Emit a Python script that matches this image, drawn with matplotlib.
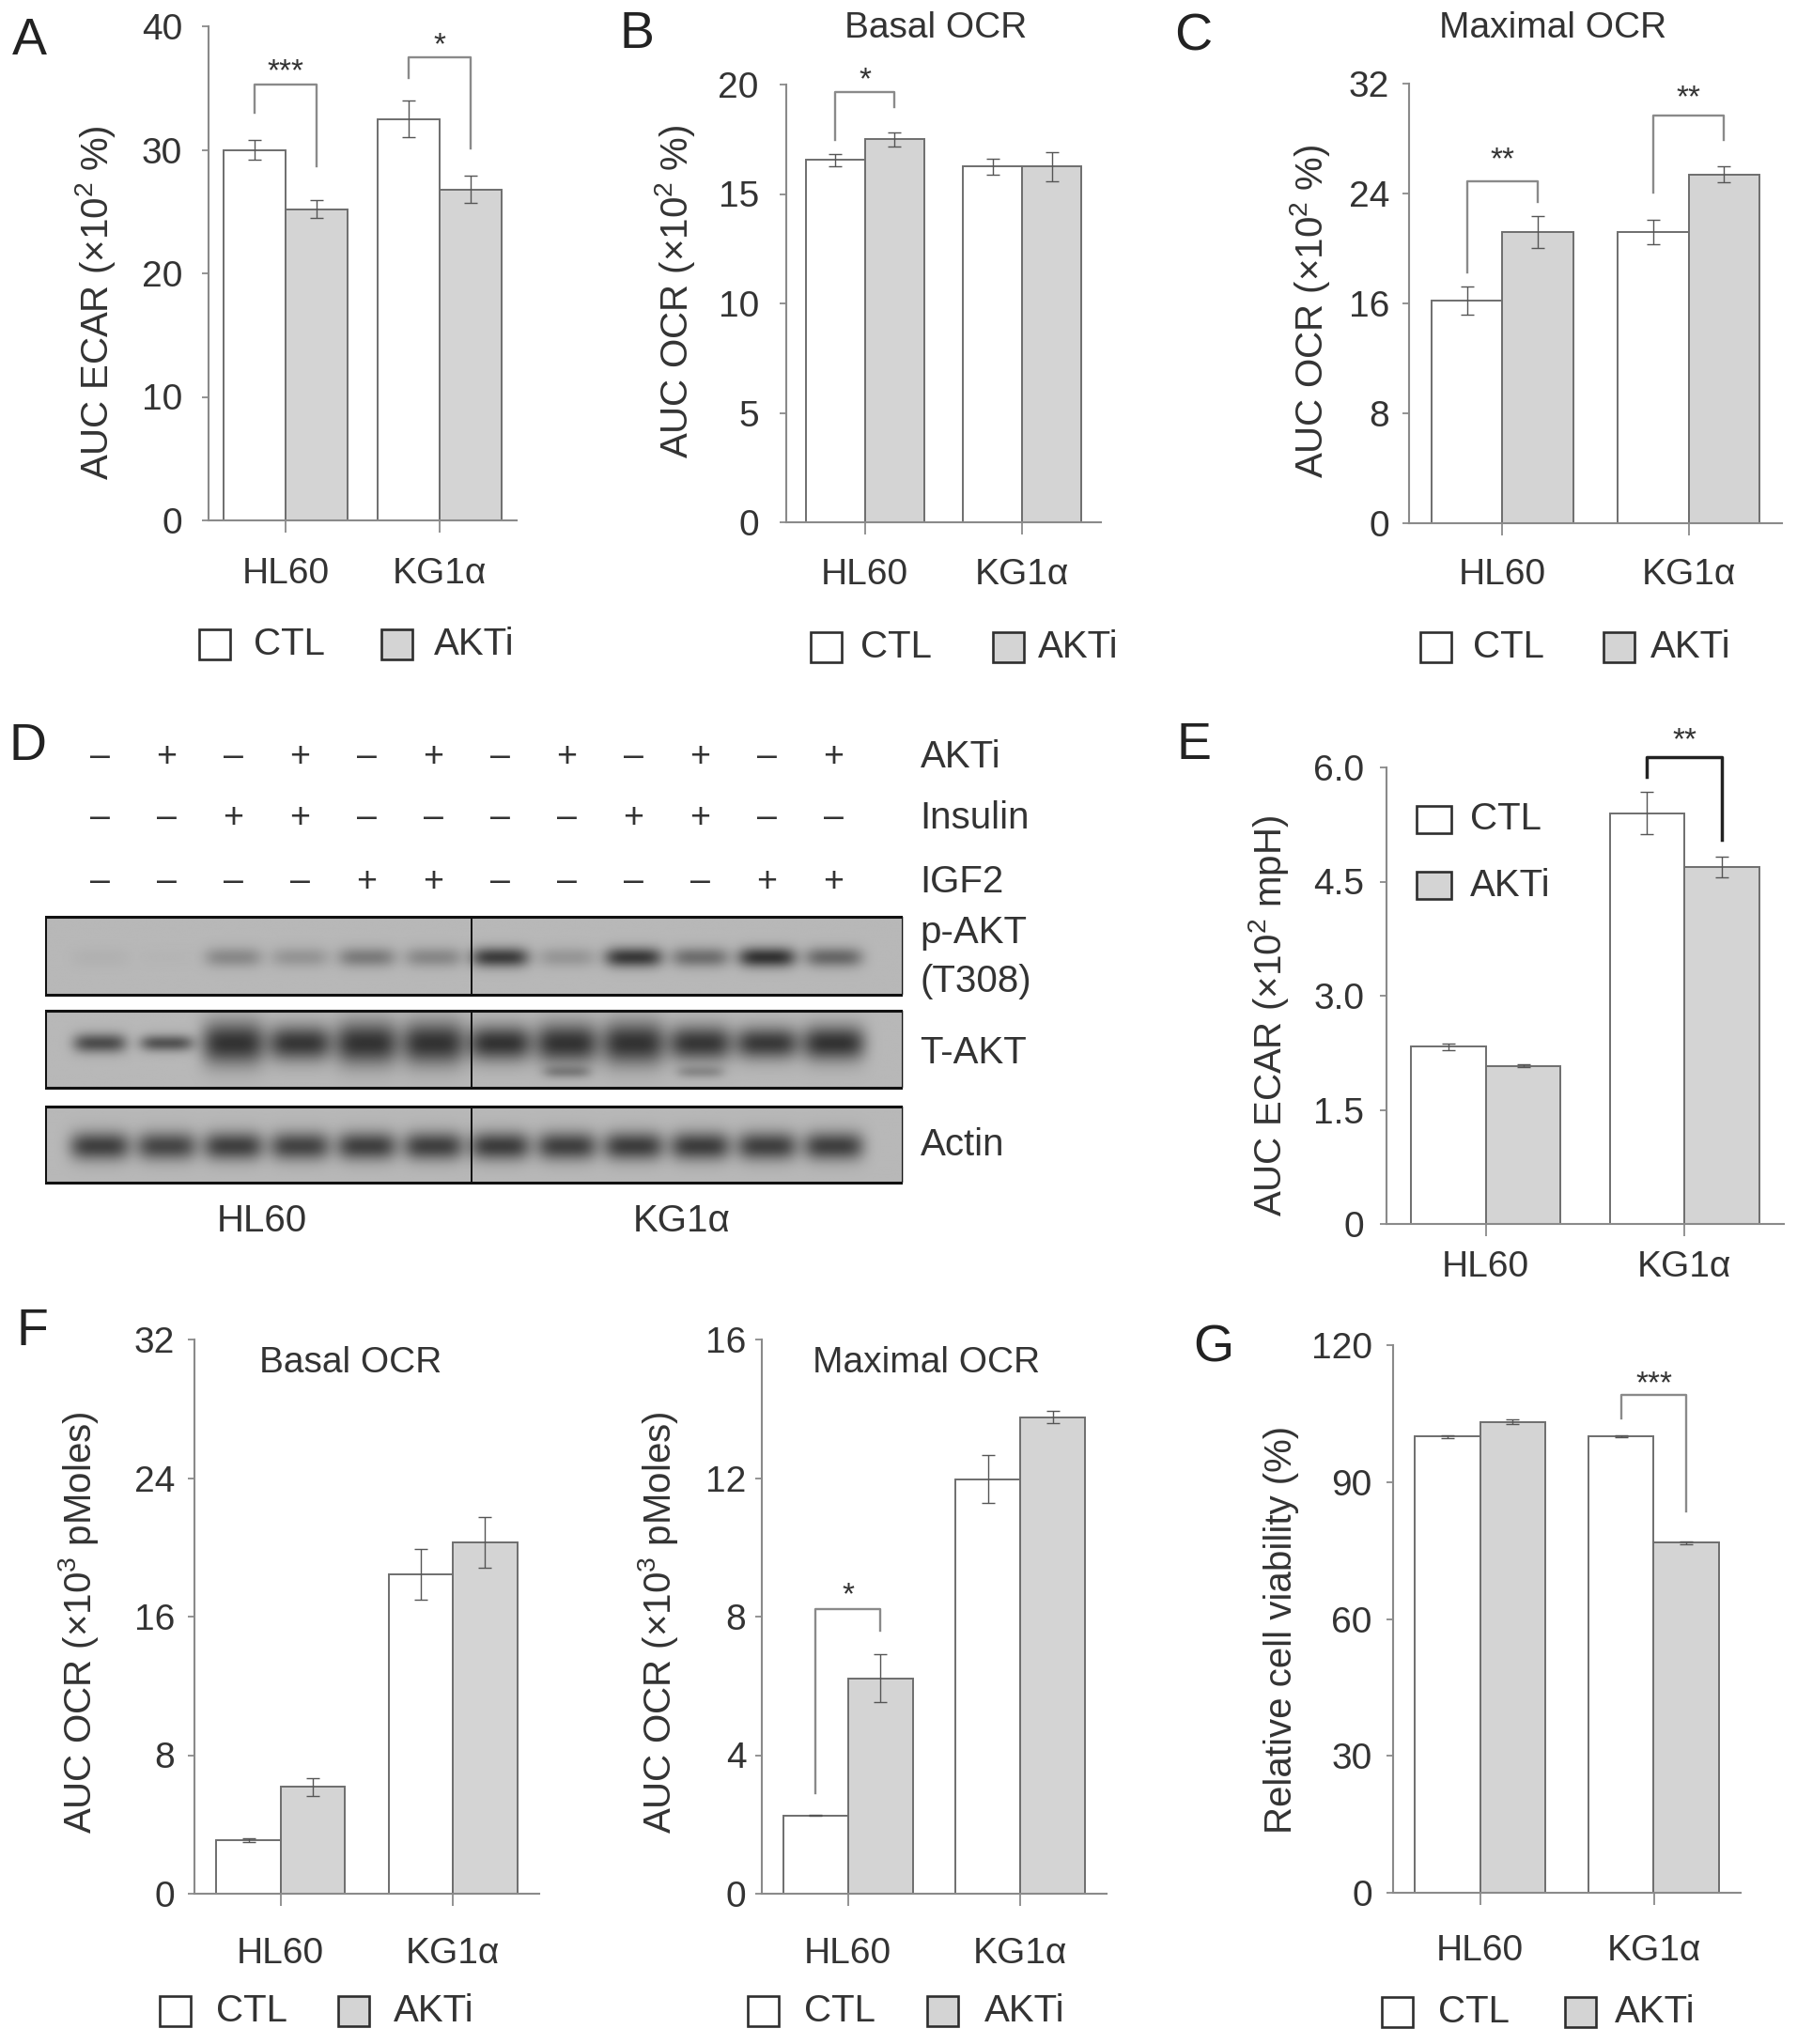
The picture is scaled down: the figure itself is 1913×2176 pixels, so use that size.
import numpy as np
import matplotlib
matplotlib.use("Agg")
import matplotlib.pyplot as plt
from matplotlib.patches import Rectangle

plt.rcParams['font.family'] = ['Liberation Sans', 'DejaVu Sans']
plt.rcParams['mathtext.fontset'] = 'custom'
plt.rcParams['mathtext.rm'] = 'Liberation Sans'
plt.rcParams['mathtext.it'] = 'Liberation Sans:italic'

W, H = 1913, 2176
TXT = '#333333'
EDGE = '#6e6e6e'
AXC = '#8a8a8a'
GREY = '#d4d4d4'

groups = ['HL60', 'KG1α']

# ---- data ----
A_ctl, A_ctl_err = [30.0, 32.5], [0.8, 1.5]
A_akti, A_akti_err = [25.2, 26.8], [0.7, 1.1]
B_ctl, B_ctl_err = [16.55, 16.25], [0.27, 0.35]
B_akti, B_akti_err = [17.5, 16.25], [0.33, 0.67]
C_ctl, C_ctl_err = [16.2, 21.2], [1.0, 0.9]
C_akti, C_akti_err = [21.2, 25.4], [1.15, 0.6]
E_ctl, E_ctl_err = [2.33, 5.40], [0.04, 0.28]
E_akti, E_akti_err = [2.08, 4.69], [0.02, 0.14]
F1_ctl, F1_ctl_err = [3.08, 18.45], [0.1, 1.45]
F1_akti, F1_akti_err = [6.17, 20.3], [0.52, 1.46]
F2_ctl, F2_ctl_err = [2.26, 11.97], [0.02, 0.69]
F2_akti, F2_akti_err = [6.22, 13.76], [0.69, 0.17]
G_ctl, G_ctl_err = [100.0, 100.0], [0.3, 0.2]
G_akti, G_akti_err = [103.2, 76.7], [0.5, 0.3]

# significance: (group, left leg bottom, top, right leg bottom, label, label y)
A_sig = [(0, 32.98, 35.25, 28.7, '***', 36.3), (1, 35.85, 37.5, 30.08, '*', 38.4)]
B_sig = [(0, 17.47, 19.64, 18.95, '*', 20.2)]
C_sig = [(0, 18.25, 24.9, 23.4, '**', 26.4), (1, 24.1, 29.7, 27.9, '**', 30.9)]
E_sig = [(1, 5.88, 6.14, 5.05, '**', 6.35)]
F2_sig = [(0, 2.89, 8.22, 7.6, '*', 8.6)]
G_sig = [(1, 104.0, 109.0, 83.6, '***', 111.5)]

# western blot
lane_akti = [0, 1, 0, 1, 0, 1, 0, 1, 0, 1, 0, 1]
lane_insulin = [0, 0, 1, 1, 0, 0, 0, 0, 1, 1, 0, 0]
lane_igf2 = [0, 0, 0, 0, 1, 1, 0, 0, 0, 0, 1, 1]
pakt_int = [0.05, 0.02, 0.35, 0.26, 0.45, 0.36, 0.92, 0.25, 0.95, 0.55, 1.0, 0.60]
takt_int = [0.80, 0.75, 1.0, 0.97, 1.0, 1.0, 1.0, 1.0, 1.0, 0.97, 0.95, 1.0]
takt_thick = [0.13, 0.11, 0.28, 0.23, 0.28, 0.28, 0.23, 0.26, 0.28, 0.23, 0.21, 0.23]
takt_low = [0, 0, 0, 0, 0, 0, 0, 0.35, 0, 0.30, 0, 0]
actin_int = [0.90, 0.85, 0.90, 0.87, 0.90, 0.90, 0.92, 0.90, 0.92, 0.92, 0.90, 0.90]


def rect(x0, y0, x1, y1):
    return [x0 / W, 1 - y1 / H, (x1 - x0) / W, (y1 - y0) / H]


fig = plt.figure(figsize=(W / 100, H / 100), dpi=100)


def bar_panel(px, ymax, yticks, ytl, ctl, ctl_e, akti, akti_e, w, sig, ylabel,
              ylab_px, ypad, xpad, sig_color=AXC, sig_lw=1.7):
    ax = fig.add_axes(rect(*px))
    x = np.arange(2)
    ekw = dict(ecolor='#555555', elinewidth=1.0, capsize=5, capthick=1.0)
    ax.bar(x - w / 2, ctl, w, yerr=ctl_e, color='white', edgecolor=EDGE, lw=1.4, error_kw=ekw, zorder=2)
    ax.bar(x + w / 2, akti, w, yerr=akti_e, color=GREY, edgecolor=EDGE, lw=1.4, error_kw=ekw, zorder=2)
    ax.set_xlim(-0.5, 1.5)
    ax.set_ylim(0, ymax)
    ax.set_yticks(yticks)
    ax.set_yticklabels(ytl)
    ax.set_xticks(x)
    ax.set_xticklabels(groups)
    for s in ['top', 'right']:
        ax.spines[s].set_visible(False)
    for s in ['left', 'bottom']:
        ax.spines[s].set_color(AXC)
        ax.spines[s].set_linewidth(1.5)
    ax.tick_params(axis='y', length=5, width=1.3, color=AXC, labelsize=28, labelcolor=TXT, pad=ypad)
    ax.tick_params(axis='x', length=9, width=1.3, color=AXC, labelsize=28, labelcolor=TXT, pad=xpad)
    ax.set_ylabel(ylabel, fontsize=29, color=TXT)
    ax.yaxis.label.set_verticalalignment('center')
    fx = (ylab_px[0] - px[0]) / (px[2] - px[0])
    fy = (px[3] - ylab_px[1]) / (px[3] - px[1])
    ax.yaxis.set_label_coords(fx, fy)
    ax.patch.set_alpha(0)
    for g, lb, top, rb, lab, ly in sig:
        xl, xr = g - w / 2, g + w / 2
        ax.plot([xl, xl, xr, xr], [lb, top, top, rb], color=sig_color, lw=sig_lw, clip_on=False, zorder=3)
        ax.text(g, ly, lab, ha='center', va='center', fontsize=24, color=TXT)
    return ax


def legend(yc, items, size=(33, 32)):
    sw, sh = size
    for (sx, tx, label, fc) in items:
        fig.add_artist(Rectangle((sx / W, 1 - (yc + sh / 2) / H), sw / W, sh / H, transform=fig.transFigure,
                                 facecolor=fc, edgecolor='#2e2e2e', lw=1.9))
        fig.text(tx / W, 1 - yc / H, label, fontsize=29, color=TXT, va='center', ha='left')


def letter(x, y, s):
    fig.text(x / W, 1 - y / H, s, fontsize=40, color='#222222', ha='center', va='center')


# ---- A ----
bar_panel((222, 28, 550, 554), 40, [0, 10, 20, 30, 40], ['0', '10', '20', '30', '40'],
          A_ctl, A_ctl_err, A_akti, A_akti_err, 0.40, A_sig, 'AUC ECAR (×10$^{2}$ %)',
          (102, 322), 15, 19)
letter(31, 44, 'A')
legend(686, [(212, 270, 'CTL', 'white'), (406, 462, 'AKTi', GREY)])

# ---- B ----
bar_panel((837, 90, 1172, 556), 20, [0, 5, 10, 15, 20], ['0', '5', '10', '15', '20'],
          B_ctl, B_ctl_err, B_akti, B_akti_err, 0.375, B_sig, 'AUC OCR (×10$^{2}$ %)',
          (718, 310), 16, 18)
letter(678, 37, 'B')
fig.text(996 / W, 1 - 30 / H, 'Basal OCR', fontsize=28, color=TXT, ha='center', va='center')
legend(689, [(863, 916, 'CTL', 'white'), (1057, 1105, 'AKTi', GREY)])

# ---- C ----
bar_panel((1500, 89, 1897, 557), 32, [0, 8, 16, 24, 32], ['0', '8', '16', '24', '32'],
          C_ctl, C_ctl_err, C_akti, C_akti_err, 0.38, C_sig, 'AUC OCR (×10$^{2}$ %)',
          (1395, 331), 10, 18)
letter(1270, 39, 'C')
fig.text(1653 / W, 1 - 30 / H, 'Maximal OCR', fontsize=28, color=TXT, ha='center', va='center')
legend(689, [(1512, 1568, 'CTL', 'white'), (1707, 1757, 'AKTi', GREY)])

# ---- E ----
bar_panel((1476, 817, 1899, 1303), 6.0, [0, 1.5, 3.0, 4.5, 6.0], ['0', '1.5', '3.0', '4.5', '6.0'],
          E_ctl, E_ctl_err, E_akti, E_akti_err, 0.376, E_sig, 'AUC ECAR (×10$^{2}$ mpH)',
          (1351, 1081), 12, 11, sig_color='#222222', sig_lw=2.5)
letter(1271, 794, 'E')
legend(872, [(1508, 1565, 'CTL', 'white')], size=(37, 29))
legend(943, [(1508, 1565, 'AKTi', GREY)], size=(37, 29))

# ---- F ----
bar_panel((207, 1426, 574, 2016), 32, [0, 8, 16, 24, 32], ['0', '8', '16', '24', '32'],
          F1_ctl, F1_ctl_err, F1_akti, F1_akti_err, 0.372, [], 'AUC OCR (×10$^{3}$ pMoles)',
          (84, 1727), 10, 24)
fig.text(373 / W, 1 - 1451 / H, 'Basal OCR', fontsize=28, color=TXT, ha='center', va='center')
bar_panel((811, 1426, 1178, 2016), 16, [0, 4, 8, 12, 16], ['0', '4', '8', '12', '16'],
          F2_ctl, F2_ctl_err, F2_akti, F2_akti_err, 0.375, F2_sig, 'AUC OCR (×10$^{3}$ pMoles)',
          (700, 1727), 7, 24)
fig.text(986 / W, 1 - 1451 / H, 'Maximal OCR', fontsize=28, color=TXT, ha='center', va='center')
letter(34, 1418, 'F')
legend(2141, [(170, 230, 'CTL', 'white'), (360, 419, 'AKTi', GREY)])
legend(2141, [(796, 856, 'CTL', 'white'), (987, 1048, 'AKTi', GREY)])

# ---- G ----
bar_panel((1483, 1432, 1853, 2015), 120, [0, 30, 60, 90, 120], ['0', '30', '60', '90', '120'],
          G_ctl, G_ctl_err, G_akti, G_akti_err, 0.377, G_sig, 'Relative cell viability (%)',
          (1364, 1735), 11, 23)
letter(1292, 1436, 'G')
legend(2142, [(1471, 1531, 'CTL', 'white'), (1666, 1719, 'AKTi', GREY)])

# ---- D: western blot ----
x_lo, x_hi = -0.817, 12.04
axd = fig.add_axes(rect(48, 760, 961, 1330))
axd.axis('off')
letter(29, 795, 'D')

lanes = np.arange(12)
for row_y, signs, name in [(806, lane_akti, 'AKTi'), (871, lane_insulin, 'Insulin'), (939, lane_igf2, 'IGF2')]:
    for i, s in zip(lanes, signs):
        axd.text(i, row_y, '+' if s else '–', ha='center', va='center', fontsize=27, color=TXT)
    axd.text(12.3, row_y, name, ha='left', va='center', fontsize=29, color=TXT, clip_on=False)

xs = np.linspace(x_lo, x_hi, 900)
ys = np.linspace(0, 1, 140)
XX, YY = np.meshgrid(xs, ys)


def blot(y0, y1, bands):
    dens = np.zeros_like(XX)
    for cx, inten, yc, th, hw in bands:
        dens += inten * np.exp(-np.abs((XX - cx) / hw) ** 4) * np.exp(-((YY - yc) / th) ** 2)
    img = 0.72 - 0.52 * np.clip(dens, 0, 1)
    axd.imshow(img, cmap='gray', vmin=0, vmax=1, extent=(x_lo, x_hi, y1, y0), aspect='auto',
               interpolation='bilinear', zorder=1)
    axd.add_patch(Rectangle((x_lo, y0), x_hi - x_lo, y1 - y0, fill=False, edgecolor='#111111', lw=2.2, zorder=3))
    axd.plot([5.577, 5.577], [y0, y1], color='#111111', lw=1.4, zorder=3)


blot(976, 1059, [(i, v, 0.52, 0.13, 0.43) for i, v in zip(lanes, pakt_int)])
blot(1076, 1158, [(i, v, 0.42, t, 0.47 if t > 0.15 else 0.40) for i, v, t in zip(lanes, takt_int, takt_thick)]
     + [(i, v, 0.80, 0.08, 0.35) for i, v in zip(lanes, takt_low)])
blot(1178, 1259, [(i, v, 0.52, 0.19, 0.45) for i, v in zip(lanes, actin_int)])
axd.set_xlim(x_lo, x_hi)
axd.set_ylim(1330, 760)

for y, s in [(993, 'p-AKT'), (1045, '(T308)'), (1121, 'T-AKT'), (1219, 'Actin')]:
    axd.text(12.3, y, s, ha='left', va='center', fontsize=29, color=TXT, clip_on=False)
axd.text(2.44, 1300, 'HL60', ha='center', va='center', fontsize=29, color=TXT)
axd.text(8.73, 1300, 'KG1α', ha='center', va='center', fontsize=29, color=TXT)

fig.savefig('out.png', dpi=100)
